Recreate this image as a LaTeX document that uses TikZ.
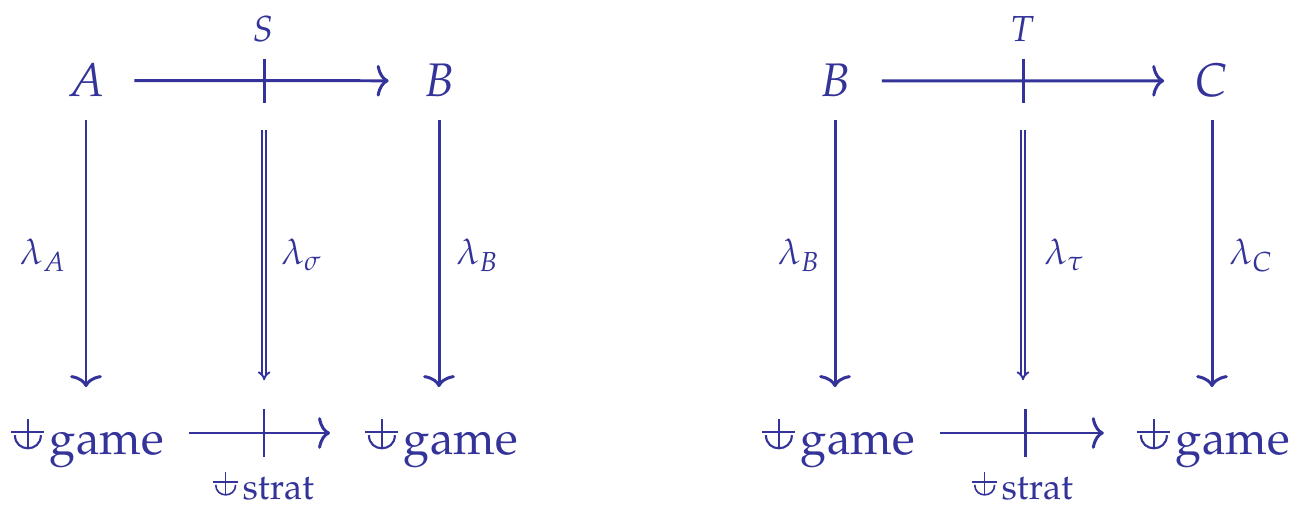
\documentclass[tikz,border=0pt]{standalone}
\usepackage[T1]{fontenc}
\usepackage{mathpazo}
\usetikzlibrary{arrows.meta,calc}

\definecolor{ink}{RGB}{51,51,153}

% small fork glyph in front of game / strat
\newcommand{\forkglyph}{\tikz[baseline=0pt,line width=0.045em,line cap=butt]{%
  \draw (0em,0.49em) -- (0.70em,0.49em);
  \draw (0.35em,0.77em) -- (0.35em,0.13em);
  \draw (0.08em,0.42em) .. controls (0.08em,0.05em) and (0.63em,0.05em) .. (0.63em,0.42em);}\kern0.1em}

\begin{document}
\begin{tikzpicture}[x=0.01cm, y=-0.01cm, ink, line width=0.85pt,
  obj/.style={inner sep=0pt, font=\fontsize{13.4}{16}\selectfont},
  lbl/.style={inner sep=0pt, font=\fontsize{10.3}{12}\selectfont},
  arr/.style={-{Computer Modern Rightarrow[length=3.4pt,width=9pt]}},
  darr/.style={double, double distance=0.6pt, line width=0.55pt, -{Implies}}]
  \useasboundingbox (0,0) rectangle (1291,507);

  % left square
  \node[obj, anchor=base] (A)  at (86,97)   {$A$};
  \node[obj, anchor=base] (B1) at (439,97)  {$B$};
  \node[obj, anchor=base] (gA) at (87,455)  {\forkglyph game};
  \node[obj, anchor=base] (gB) at (441,455) {\forkglyph game};

  \draw[arr, shorten <=8pt, shorten >=9.5pt] (A.east) -- coordinate (s) (B1.west);
  \draw ($(s)+(0,-22)$) -- ($(s)+(0,22)$);
  \draw[arr, shorten <=7pt, shorten >=9.5pt] ($(gA.base east)+(0,-22)$) -- coordinate (t) ($(gB.base west)+(0,-22)$);
  \draw ($(t)+(0,-24)$) -- ($(t)+(0,24)$);

  \draw[arr, shorten <=6pt, shorten >=8.5pt] (A.south) -- (A.south |- gA.north);
  \draw[arr, shorten <=6pt, shorten >=8.5pt] (B1.south) -- (B1.south |- gB.north);
  \draw[darr, shorten <=14pt, shorten >=15pt] (s) -- (s |- t);

  \node[lbl, anchor=base] (lS) at (263,42) {$S$};
  \node[lbl, anchor=base] (sA) at (263,500) {\forkglyph strat};
  \node[lbl, anchor=base east] (lA)  at (68,265)  {$\lambda_A$};
  \node[lbl, anchor=base west] (ls)  at (280,265) {$\lambda_\sigma$};
  \node[lbl, anchor=base west] (lB1) at (455,265) {$\lambda_B$};

  % right square
  \node[obj, anchor=base] (B2) at (835,97)   {$B$};
  \node[obj, anchor=base] (C)  at (1212,97)  {$C$};
  \node[obj, anchor=base] (gB2) at (838,455)  {\forkglyph game};
  \node[obj, anchor=base] (gC)  at (1213,455) {\forkglyph game};

  \draw[arr, shorten <=8.5pt, shorten >=8.5pt] (B2.east) -- coordinate (u) (C.west);
  \draw ($(u)+(0,-22)$) -- ($(u)+(0,22)$);
  \draw[arr, shorten <=7pt, shorten >=9pt] ($(gB2.base east)+(0,-22)$) -- coordinate (v) ($(gC.base west)+(0,-22)$);
  \draw ($(v)+(0,-24)$) -- ($(v)+(0,24)$);

  \draw[arr, shorten <=6pt, shorten >=8.5pt] (B2.south) -- (B2.south |- gB2.north);
  \draw[arr, shorten <=6pt, shorten >=8.5pt] (C.south) -- (C.south |- gC.north);
  \draw[darr, shorten <=14pt, shorten >=15pt] (u) -- (u |- v);

  \node[lbl, anchor=base] (lT) at (1022,42) {$T$};
  \node[lbl, anchor=base] (sB) at (1022,500) {\forkglyph strat};
  \node[lbl, anchor=base east] (lB2) at (822,265)  {$\lambda_B$};
  \node[lbl, anchor=base west] (lt)  at (1043,265) {$\lambda_\tau$};
  \node[lbl, anchor=base west] (lC)  at (1228,265) {$\lambda_C$};
\end{tikzpicture}
\end{document}
